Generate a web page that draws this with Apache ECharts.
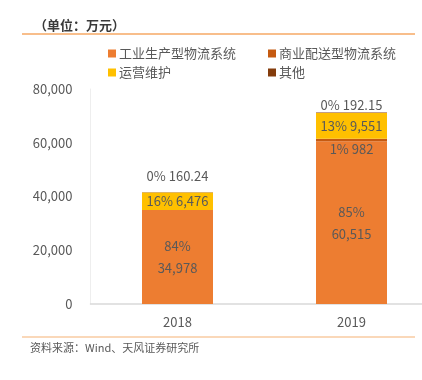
<!DOCTYPE html>
<html>
<head>
<meta charset="utf-8">
<script src="https://cdn.jsdelivr.net/npm/echarts@6/dist/echarts.min.js"></script>
<style>
  html, body { margin: 0; padding: 0; background: #fff; }
  #chart { width: 422px; height: 380px; }
</style>
</head>
<body>
<div id="chart"></div>
<script>
// data (万元)
const years = ['2018', '2019'];
const industrial = [34978, 60515];
const commercial = [null, 982];
const operation = [6476, 9551];
const other = [160.24, 192.15];

const industrialPct = ['84%', '85%'];
const commercialPct = ['', '1%'];
const operationPct = ['16%', '13%'];
const otherPct = ['0%', '0%'];

const yTicks = [0, 20000, 40000, 60000, 80000];

const fmt = v => Number(v).toLocaleString('en-US');
const FONT = '"Noto Sans CJK SC", "Noto Sans", sans-serif';
const GREY = '#595959';

const chart = echarts.init(document.getElementById('chart'));

const legendBase = {
    orient: 'vertical',
    top: 42,
    itemWidth: 8,
    itemHeight: 8,
    itemGap: 6,
    icon: 'rect',
    textStyle: { color: GREY, fontSize: 13, fontFamily: FONT, padding: [0, 0, 0, -2] }
};

chart.setOption({
    backgroundColor: '#fff',
    animation: false,
    textStyle: { fontFamily: FONT },

    title: {
        text: '（单位：万元）',
        left: 29,
        top: 14,
        textStyle: { fontSize: 13, fontWeight: 'bold', color: '#3a3a3a', fontFamily: FONT }
    },

    legend: [
        Object.assign({ left: 103, data: ['工业生产型物流系统', '运营维护'] }, legendBase),
        Object.assign({ left: 263, data: ['商业配送型物流系统', '其他'] }, legendBase)
    ],

    // plot area runs past the right edge of the picture, as in the source
    grid: {
        left: 90.5,
        width: 348,
        top: 89,
        bottom: 76,
        outerBoundsMode: 'none',
        containLabel: false
    },

    xAxis: {
        type: 'category',
        data: years,
        axisTick: { show: false },
        axisLine: { lineStyle: { color: '#d9d9d9', width: 1.5 } },
        axisLabel: { color: GREY, fontSize: 13, margin: 12 }
    },

    yAxis: {
        type: 'value',
        min: yTicks[0],
        max: yTicks[yTicks.length - 1],
        interval: yTicks[1] - yTicks[0],
        splitLine: { show: false },
        axisLine: { show: true, lineStyle: { color: '#eeeeee' } },
        axisTick: { show: false },
        axisLabel: { color: GREY, fontSize: 13, margin: 18, formatter: v => fmt(v) }
    },

    series: [
        {
            name: '工业生产型物流系统',
            type: 'bar',
            stack: 'total',
            barWidth: 71,
            itemStyle: { color: '#ED7D31' },
            label: {
                show: true,
                position: 'inside',
                color: GREY,
                fontSize: 13,
                lineHeight: 22,
                formatter: p => industrialPct[p.dataIndex] + '\n' + fmt(p.value)
            },
            data: industrial
        },
        {
            name: '商业配送型物流系统',
            type: 'bar',
            stack: 'total',
            itemStyle: { color: '#C55A11' },
            label: {
                show: true,
                position: 'bottom',
                distance: 1,
                color: GREY,
                fontSize: 13,
                formatter: p => commercialPct[p.dataIndex] + ' ' + fmt(p.value)
            },
            data: commercial
        },
        {
            name: '运营维护',
            type: 'bar',
            stack: 'total',
            itemStyle: { color: '#FFC000' },
            label: {
                show: true,
                position: 'inside',
                color: GREY,
                fontSize: 13,
                formatter: p => operationPct[p.dataIndex] + ' ' + fmt(p.value)
            },
            data: operation
        },
        {
            name: '其他',
            type: 'bar',
            stack: 'total',
            itemStyle: { color: '#843C0C' },
            label: {
                show: true,
                position: 'top',
                color: GREY,
                fontSize: 13,
                formatter: p => otherPct[p.dataIndex] + ' ' + p.value
            },
            data: other.map((v, i) => ({
                value: v,
                label: { distance: i === 0 ? 10 : 1 }
            }))
        }
    ],

    graphic: [
        {
            type: 'line',
            shape: { x1: 22, y1: 34, x2: 415, y2: 34 },
            style: { stroke: '#F6A865', lineWidth: 1.5 }
        },
        {
            type: 'line',
            shape: { x1: 22, y1: 337, x2: 415, y2: 337 },
            style: { stroke: '#F9CBA2', lineWidth: 1.5 }
        },
        {
            type: 'text',
            left: 30,
            top: 342,
            style: { text: '资料来源：Wind、天风证券研究所', fill: GREY, fontSize: 11, fontFamily: FONT }
        }
    ]
});
</script>
</body>
</html>
